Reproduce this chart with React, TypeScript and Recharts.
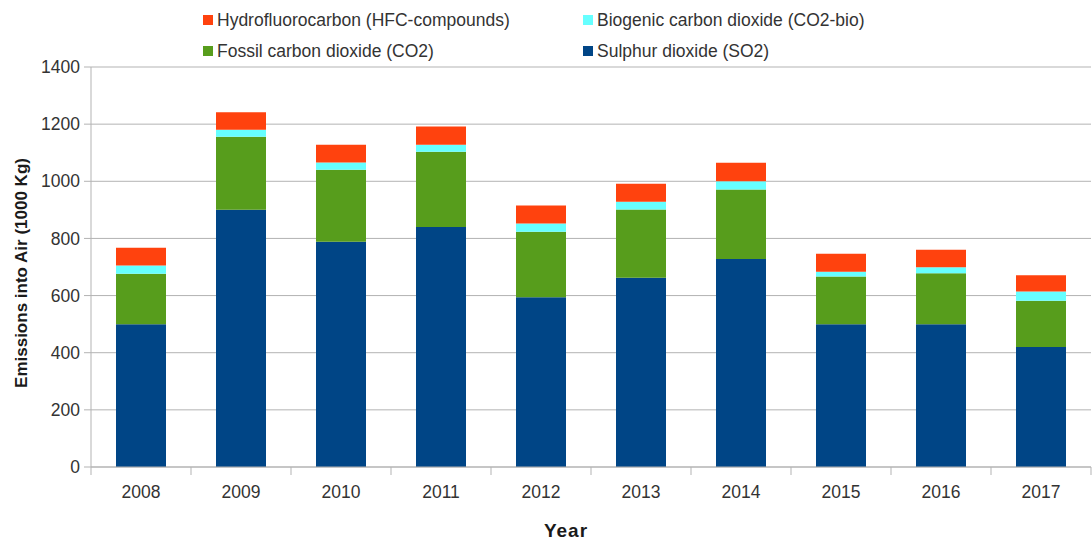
import React from 'react';
import { BarChart, Bar, XAxis, YAxis, CartesianGrid, Legend } from 'recharts';

const years = ['2008', '2009', '2010', '2011', '2012', '2013', '2014', '2015', '2016', '2017'];
const sulphurDioxide = [500, 900, 788, 840, 594, 662, 728, 500, 500, 420];
const fossilCo2 = [176, 256, 252, 263, 229, 239, 243, 167, 178, 162];
const biogenicCo2 = [29, 24, 26, 25, 29, 27, 29, 16, 21, 32];
const hfcCompounds = [62, 62, 62, 64, 63, 63, 65, 63, 61, 57];
const yTicks = [0, 200, 400, 600, 800, 1000, 1200, 1400];

const SERIES = [
  { key: 'so2', name: 'Sulphur dioxide (SO2)', color: '#004586' },
  { key: 'co2', name: 'Fossil carbon dioxide (CO2)', color: '#579d1c' },
  { key: 'bio', name: 'Biogenic carbon dioxide (CO2-bio)', color: '#66ffff' },
  { key: 'hfc', name: 'Hydrofluorocarbon (HFC-compounds)', color: '#ff420e' },
];

// legend reads top-down, two columns: [hfc, bio] / [co2, so2]
const LEGEND_ORDER = ['hfc', 'bio', 'co2', 'so2'];

const FONT = '"Liberation Sans", Arial, sans-serif';
const GRID = '#b3b3b3';
const WIDTH = 1092;
const HEIGHT = 543;
const MARGIN = { top: 67, right: 1, bottom: 0, left: 0 };
const Y_AXIS_W = 91;
const BAND = (WIDTH - MARGIN.left - MARGIN.right - Y_AXIS_W) / years.length;
const TICK_SIZE = 8;
const TICK_MARGIN = 10;

const data = years.map((year, i) => ({
  year,
  so2: sulphurDioxide[i],
  co2: fossilCo2[i],
  bio: biogenicCo2[i],
  hfc: hfcCompounds[i],
}));

// category labels with LibreOffice-style tick marks on the band edges
const YearTick = (props: any) => {
  const { x, y, payload, index, visibleTicksCount } = props;
  const axisY = y - TICK_SIZE - TICK_MARGIN;
  const left = x - BAND / 2;
  const right = x + BAND / 2;
  return (
    <g>
      <line x1={left} x2={left} y1={axisY} y2={axisY + 8} stroke={GRID} />
      {index === visibleTicksCount - 1 && (
        <line x1={right} x2={right} y1={axisY} y2={axisY + 8} stroke={GRID} />
      )}
      <text x={x} y={axisY + 31} textAnchor="middle" fill="#333" fontSize={17.5} fontFamily={FONT}>
        {payload.value}
      </text>
    </g>
  );
};

const LegendBox = () => {
  const cols = [203, 583];
  const rows = [20, 51];
  return (
    <div style={{ position: 'relative', width: WIDTH, height: 66, fontFamily: FONT }}>
      {LEGEND_ORDER.map((key, i) => {
        const s = SERIES.find(d => d.key === key)!;
        const left = cols[i % 2];
        const top = rows[Math.floor(i / 2)];
        return (
          <div
            key={key}
            style={{ position: 'absolute', left, top: top - 11, height: 22, display: 'flex', alignItems: 'center' }}
          >
            <span style={{ width: 10, height: 10, background: s.color, marginRight: 4 }} />
            <span style={{ fontSize: 17.5, color: '#333', whiteSpace: 'nowrap' }}>{s.name}</span>
          </div>
        );
      })}
    </div>
  );
};

const App: React.FC = () => {
  return (
    <div style={{ position: 'absolute', left: 0, top: 0, background: '#fff' }}>
      <BarChart width={WIDTH} height={HEIGHT} data={data} margin={MARGIN} barCategoryGap="25%">
        <CartesianGrid vertical={false} stroke={GRID} />
        <XAxis
          dataKey="year"
          height={HEIGHT - MARGIN.top - 400}
          axisLine={{ stroke: GRID }}
          tickLine={false}
          tickSize={TICK_SIZE}
          tickMargin={TICK_MARGIN}
          tick={<YearTick />}
          interval={0}
          label={({ viewBox }: any) => (
            <text
              x={viewBox.x + viewBox.width / 2 - 25}
              y={viewBox.y + 70}
              textAnchor="middle"
              fontSize={19}
              fontWeight="bold"
              letterSpacing={1}
              fill="#1a1a1a"
              fontFamily={FONT}
            >
              Year
            </text>
          )}
        />
        <YAxis
          width={Y_AXIS_W}
          domain={[0, 1400]}
          ticks={yTicks}
          interval={0}
          axisLine={{ stroke: GRID }}
          tickLine={{ stroke: GRID }}
          tickSize={7}
          tickMargin={4}
          tick={{ fill: '#333', fontSize: 17.5, fontFamily: FONT }}
          label={({ viewBox }: any) => {
            const cx = 21;
            const cy = viewBox.y + viewBox.height / 2 + 6;
            return (
              <text
                x={cx}
                y={cy}
                transform={`rotate(-90 ${cx} ${cy})`}
                textAnchor="middle"
                dominantBaseline="central"
                fontSize={17}
                fontWeight="bold"
                fill="#1a1a1a"
                fontFamily={FONT}
              >
                Emissions into Air (1000 Kg)
              </text>
            );
          }}
        />
        <YAxis
          yAxisId="frame"
          orientation="right"
          width={0}
          domain={[0, 1400]}
          tick={false}
          tickLine={false}
          axisLine={{ stroke: GRID }}
        />
        <Legend
          layout="horizontal"
          verticalAlign="middle"
          align="center"
          wrapperStyle={{ position: 'absolute', left: 0, top: 0, width: WIDTH }}
          content={() => <LegendBox />}
        />
        {SERIES.map(s => (
          <Bar key={s.key} dataKey={s.key} name={s.name} stackId="air" fill={s.color} isAnimationActive={false} />
        ))}
      </BarChart>
    </div>
  );
};

export default App;
